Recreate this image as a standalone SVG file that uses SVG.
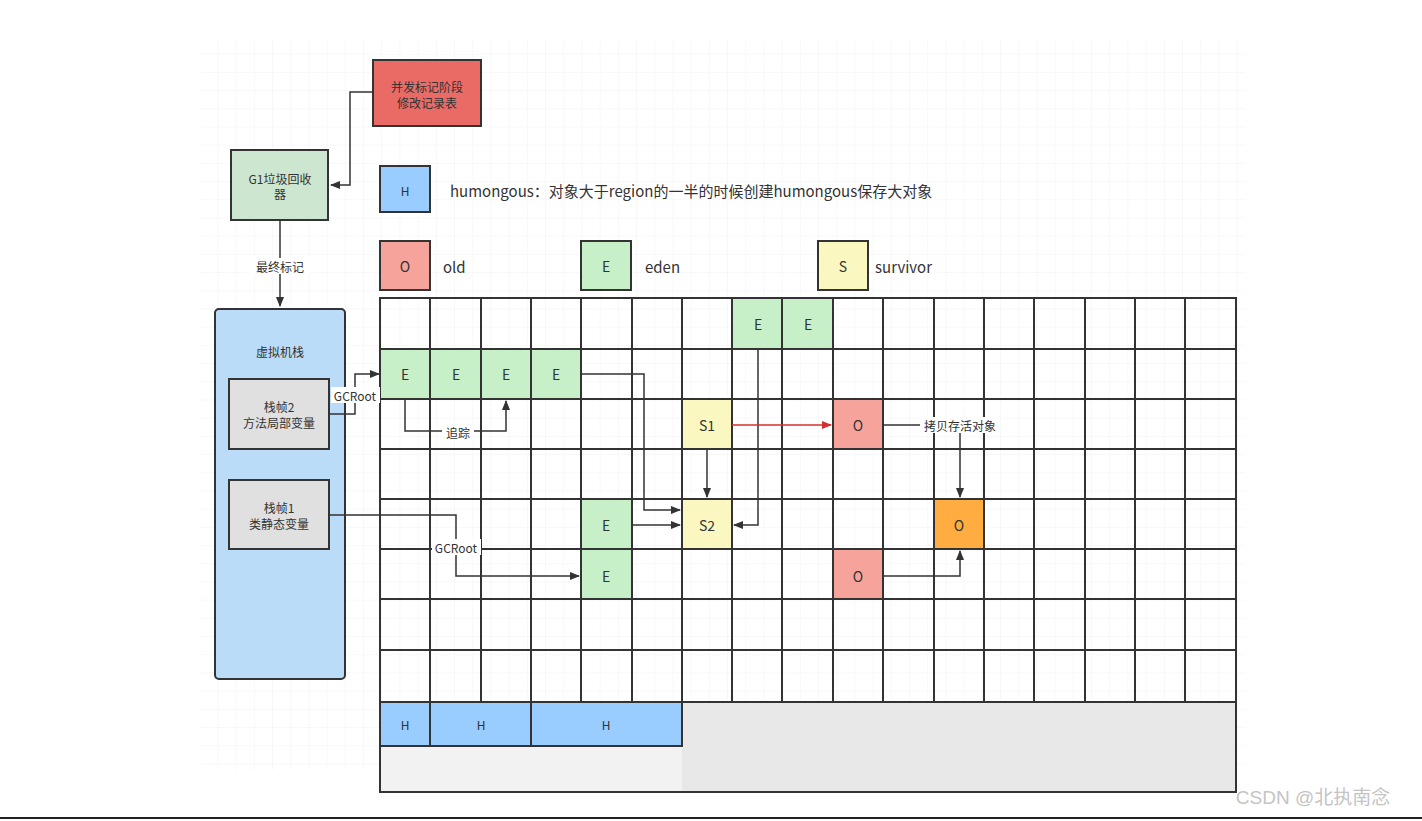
<svg xmlns="http://www.w3.org/2000/svg" width="1422" height="821" viewBox="0 0 1422 821">
<defs>
<pattern id="bg" width="18.2" height="18.2" patternUnits="userSpaceOnUse"><path d="M18.2 0V18.2H0" fill="none" stroke="#f1f1f1" stroke-width="1"/></pattern>
<marker id="ar" viewBox="0 0 10 10" refX="9" refY="5" markerWidth="7" markerHeight="7" orient="auto"><path d="M0 1L10 5L0 9z" fill="#333"/></marker>
<marker id="arr" viewBox="0 0 10 10" refX="9" refY="5" markerWidth="7" markerHeight="7" orient="auto"><path d="M0 1L10 5L0 9z" fill="#d32f2f"/></marker>
</defs>
<style>
text{font-family:"Noto Sans CJK SC","Liberation Sans",sans-serif;fill:#333;text-anchor:middle;dominant-baseline:central}
.c{stroke:#333;stroke-width:2}
.e{fill:#c8f0c8}.s{fill:#fbf7c0}.o{fill:#f6a39c}.h{fill:#99ccff}
.ln{fill:none;stroke:#333;stroke-width:1.5}
.lb{font-size:12px}
.big{font-size:15px;text-anchor:start}
</style>
<rect width="1422" height="821" fill="#fff"/>
<rect x="200" y="40" width="1045" height="730" fill="url(#bg)"/>
<g id="redbox"><rect x="373" y="60" width="108" height="66" fill="#ea6b66" stroke="#333" stroke-width="2"/><text x="427" y="86" font-size="12">并发标记阶段</text><text x="427" y="102" font-size="12">修改记录表</text></g>
<g id="g1"><rect x="231" y="150" width="97" height="70" fill="#cde6d0" stroke="#333" stroke-width="2"/><text x="280" y="178" font-size="12">G1垃圾回收</text><text x="280" y="193" font-size="12">器</text></g>
<g id="stack"><rect x="215" y="309" width="130" height="370" rx="4" fill="#bbdcf8" stroke="#333" stroke-width="2"/><text x="280" y="351" font-size="12">虚拟机栈</text></g>
<g id="frame2"><rect x="229" y="379" width="100" height="70" fill="#e0e0e0" stroke="#333" stroke-width="2"/><text x="279" y="406" font-size="12">栈帧2</text><text x="279" y="422" font-size="12">方法局部变量</text></g>
<g id="frame1"><rect x="229" y="480" width="100" height="69" fill="#e0e0e0" stroke="#333" stroke-width="2"/><text x="279" y="507" font-size="12">栈帧1</text><text x="279" y="523" font-size="12">类静态变量</text></g>
<g id="legend">
<rect x="380" y="166" width="50" height="46" class="h c"/><text x="405" y="190" font-size="12" fill="#1a4f8a">H</text>
<text x="450" y="190" class="big">humongous：对象大于region的一半的时候创建humongous保存大对象</text>
<rect x="380" y="241" width="50" height="49" class="o c"/><text x="405" y="266" font-size="14">O</text><text x="443" y="266" class="big">old</text>
<rect x="581" y="241" width="50" height="49" class="e c"/><text x="606" y="266" font-size="14">E</text><text x="645" y="266" class="big">eden</text>
<rect x="818" y="241" width="50" height="49" class="s c"/><text x="843" y="266" font-size="14">S</text><text x="875" y="266" class="big">survivor</text>
</g>
<g id="grid">
<rect x="380" y="702" width="856" height="90" fill="#e8e8e8"/>
<rect x="380" y="746" width="302" height="46" fill="#f2f2f2"/>
<rect x="732" y="298" width="101" height="51" class="e"/>
<rect x="380" y="349" width="201" height="50" class="e"/>
<rect x="682" y="399" width="50" height="50" class="s"/>
<rect x="833" y="399" width="50" height="50" class="o"/>
<rect x="581" y="499" width="51" height="100" class="e"/>
<rect x="682" y="499" width="50" height="50" class="s"/>
<rect x="934" y="499" width="50" height="50" fill="#ffad40"/>
<rect x="833" y="549" width="50" height="50" class="o"/>
<path d="M380 298H1236M380 349H1236M380 399H1236M380 449H1236M380 499H1236M380 549H1236M380 599H1236M380 650H1236M380 702H1236" stroke="#333" stroke-width="2"/>
<path d="M430 298V702M481 298V702M531 298V702M581 298V702M632 298V702M682 298V702M732 298V702M782 298V702M833 298V702M883 298V702M934 298V702M984 298V702M1034 298V702M1085 298V702M1135 298V702M1185 298V702" stroke="#333" stroke-width="2"/>
<rect x="380" y="702" width="50" height="44" class="h c"/>
<rect x="430" y="702" width="101" height="44" class="h c"/>
<rect x="531" y="702" width="151" height="44" class="h c"/>
<path d="M380 298H1236V792H380Z" fill="none" stroke="#333" stroke-width="2"/>
<g font-size="14">
<text x="758" y="324">E</text><text x="808" y="324">E</text>
<text x="405" y="374">E</text><text x="456" y="374">E</text><text x="506" y="374">E</text><text x="556" y="374">E</text>
<text x="707" y="425">S1</text><text x="858" y="425">O</text>
<text x="606" y="525">E</text><text x="707" y="525">S2</text><text x="959" y="525">O</text>
<text x="606" y="576">E</text><text x="858" y="576">O</text>
</g>
<g font-size="12" fill="#1a4f8a"><text x="405" y="724" fill="#1a4f8a">H</text><text x="481" y="724" fill="#1a4f8a">H</text><text x="606" y="724" fill="#1a4f8a">H</text></g>
</g>
<g id="connectors">
<path d="M373 92H350V185H331" class="ln" marker-end="url(#ar)"/>
<path d="M280 220V306" class="ln" marker-end="url(#ar)"/>
<rect x="250" y="258" width="60" height="16" fill="#fff"/><text x="280" y="266" class="lb">最终标记</text>
<path d="M329 414H355V374H379" class="ln" marker-end="url(#ar)"/>
<rect x="331" y="387" width="49" height="16" fill="#fff"/><text x="355" y="395" class="lb">GCRoot</text>
<path d="M329 515H456V576H579" class="ln" marker-end="url(#ar)"/>
<rect x="432" y="539" width="49" height="16" fill="#fff"/><text x="456" y="547" class="lb">GCRoot</text>
<path d="M405 399V431H506V401" class="ln" marker-end="url(#ar)"/>
<rect x="442" y="424" width="32" height="16" fill="#fff"/><text x="458" y="432" class="lb">追踪</text>
<path d="M581 374H644V510H680" class="ln" marker-end="url(#ar)"/>
<path d="M632 525H680" class="ln" marker-end="url(#ar)"/>
<path d="M758 349V525H734" class="ln" marker-end="url(#ar)"/>
<path d="M707 449V497" class="ln" marker-end="url(#ar)"/>
<path d="M732 425H831" fill="none" stroke="#d32f2f" stroke-width="1.5" marker-end="url(#arr)"/>
<path d="M883 425H960V497" class="ln" marker-end="url(#ar)"/>
<rect x="920" y="417" width="80" height="16" fill="#fff"/><text x="960" y="425" class="lb">拷贝存活对象</text>
<path d="M883 576H960V551" class="ln" marker-end="url(#ar)"/>
</g>
<text x="1313" y="797" font-size="19" fill="#c8c8c8" style="fill:#c4c4c4;font-family:'Liberation Sans','Noto Sans CJK SC',sans-serif">CSDN @北执南念</text>
<path d="M0 818H1422" stroke="#222" stroke-width="2"/>
</svg>
